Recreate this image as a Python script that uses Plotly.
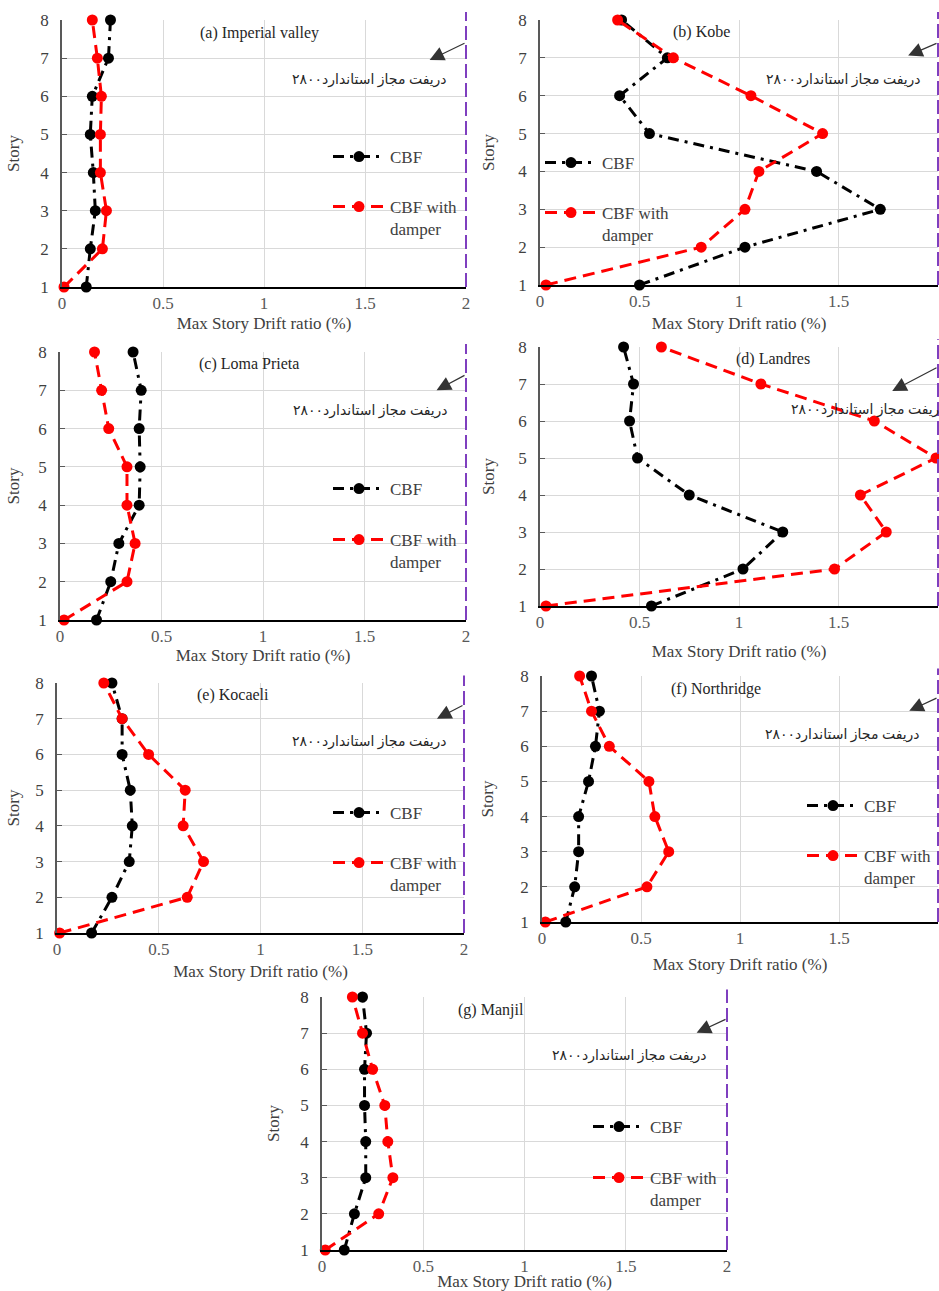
import plotly.graph_objects as go

W, H = 939, 1291

# ---------------- data ----------------
STORY = [1, 2, 3, 4, 5, 6, 7, 8]
XTICKS = [0, 0.5, 1, 1.5, 2]
XTICKTEXT = ["0", "0.5", "1", "1.5", "2"]
X_RANGE = [0, 2]
Y_RANGE = [1, 8]
LIMIT = 2.0
LIMIT_LABEL = "دریفت مجاز استاندارد۲۸۰۰"
SERIES_NAMES = ["CBF", "CBF with<br>damper"]
X_TITLE = "Max Story Drift ratio (%)"
Y_TITLE = "Story"

TITLES = ["(a) Imperial valley", "(b) Kobe", "(c) Loma Prieta", "(d) Landres",
          "(e) Kocaeli", "(f) Northridge", "(g) Manjil"]

# values for stories 1..8
imperial_cbf = [0.12, 0.14, 0.165, 0.155, 0.14, 0.15, 0.23, 0.24]
imperial_damper = [0.01, 0.20, 0.22, 0.19, 0.19, 0.195, 0.175, 0.15]
kobe_cbf = [0.50, 1.03, 1.71, 1.39, 0.55, 0.40, 0.64, 0.41]
kobe_damper = [0.03, 0.81, 1.03, 1.10, 1.42, 1.06, 0.67, 0.39]
loma_cbf = [0.18, 0.25, 0.29, 0.39, 0.395, 0.39, 0.40, 0.36]
loma_damper = [0.02, 0.33, 0.37, 0.33, 0.33, 0.24, 0.205, 0.17]
landers_cbf = [0.56, 1.02, 1.22, 0.75, 0.49, 0.45, 0.47, 0.42]
landers_damper = [0.03, 1.48, 1.74, 1.61, 1.99, 1.68, 1.11, 0.61]
kocaeli_cbf = [0.17, 0.27, 0.355, 0.37, 0.36, 0.32, 0.32, 0.27]
kocaeli_damper = [0.013, 0.64, 0.72, 0.62, 0.63, 0.45, 0.32, 0.23]
northridge_cbf = [0.12, 0.165, 0.185, 0.185, 0.235, 0.27, 0.29, 0.25]
northridge_damper = [0.017, 0.53, 0.64, 0.57, 0.54, 0.34, 0.25, 0.19]
manjil_cbf = [0.11, 0.16, 0.216, 0.216, 0.21, 0.21, 0.22, 0.20]
manjil_damper = [0.016, 0.28, 0.35, 0.325, 0.31, 0.25, 0.20, 0.15]

CBF_SERIES = [imperial_cbf, kobe_cbf, loma_cbf, landers_cbf, kocaeli_cbf, northridge_cbf, manjil_cbf]
DAMPER_SERIES = [imperial_damper, kobe_damper, loma_damper, landers_damper,
                 kocaeli_damper, northridge_damper, manjil_damper]

# ---------------- layout (pixels) ----------------
# plot box: (left, right, top, bottom)
BOXES = [(62, 466, 20, 287), (540, 938, 20, 285), (60, 466, 352, 620), (540, 938, 347, 606),
         (57, 464, 683, 933), (542, 938, 676, 922), (322, 727, 997, 1250)]
# title annotation (x, y in data)
TITLE_POS = [(0.98, 7.67), (0.81, 7.67), (0.93, 7.69), (1.17, 7.68), (0.865, 7.67), (0.88, 7.64), (0.834, 7.65)]
# arrow head (x,y), tail (x,y)
ARROWS = [((1.82, 6.95), (2.0, 7.41)), ((1.85, 7.06), (2.0, 7.40)), ((1.855, 7.0), (2.0, 7.41)),
          ((1.77, 6.81), (2.0, 7.46)), ((1.867, 7.0), (2.0, 7.39)), ((1.855, 7.01), (2.0, 7.39)),
          ((1.85, 7.01), (2.0, 7.40))]
# label (x, y, xanchor)
LABELS = [(1.52, 6.43, "center"), (1.525, 6.42, "center"), (1.53, 6.45, "center"),
          (1.25, 6.3, "left"), (1.536, 6.36, "center"), (1.52, 6.32, "center"), (1.52, 6.36, "center")]
# legend: line start px, CBF center y px, damper first line y px (None = no legend)
LEGENDS = [(333, 157, 207), (545, 163, 213), (333, 489, 540), None,
           (333, 813, 863), (807, 806, 856), (593, 1127, 1178)]
X_STANDOFF = [35, 37, 32, 44, 37, 41, 33]
Y_STANDOFF = [44, 47, 42, 47, 39, 50, 44]

SERIF = "Liberation Serif, Times New Roman, serif"
fig = go.Figure()
layout = dict(
    width=W, height=H, margin=dict(l=0, r=0, t=0, b=0),
    paper_bgcolor="white", plot_bgcolor="white",
    font=dict(family=SERIF, size=17, color="#404040"),
    annotations=[], shapes=[],
)

leg_idx = 0
for i in range(7):
    n = "" if i == 0 else str(i + 1)
    xa, ya = "x" + n, "y" + n
    l, r, t, b = BOXES[i]
    leg = LEGENDS[i]
    for k, (vals, color, dash) in enumerate([
        (CBF_SERIES[i], "black", "11px,6px,3px,6px"),
        (DAMPER_SERIES[i], "#ff0000", "12px,7px"),
    ]):
        tr = dict(
            x=vals, y=STORY, xaxis=xa, yaxis=ya, mode="lines+markers",
            name=SERIES_NAMES[k],
            line=dict(color=color, width=3, dash=dash),
            marker=dict(color=color, size=11, symbol="circle"),
            cliponaxis=False,
            showlegend=leg is not None,
        )
        if leg is not None:
            leg_idx += 1
            lname = "legend" if leg_idx == 1 else "legend" + str(leg_idx)
            tr["legend"] = lname
            ly = leg[1] if k == 0 else leg[2]
            layout[lname] = dict(
                x=(leg[0] - 5) / W, xanchor="left",
                y=1 - (ly - 18) / H, yanchor="top",
                bgcolor="rgba(0,0,0,0)", borderwidth=0,
                itemwidth=52, valign="top",
                font=dict(family=SERIF, size=17, color="#404040"),
            )
        fig.add_trace(go.Scatter(**tr))

    layout["xaxis" + n] = dict(
        domain=[l / W, r / W], anchor=ya, range=X_RANGE,
        tickvals=XTICKS, ticktext=XTICKTEXT,
        showgrid=True, gridcolor="#d9d9d9", gridwidth=1,
        showline=True, linecolor="black", linewidth=1.5, zeroline=False,
        ticks="", tickfont=dict(family=SERIF, size=17, color="#595959"),
        title=dict(text=X_TITLE, font=dict(family=SERIF, size=17, color="#404040"),
                   standoff=X_STANDOFF[i] - 30),
        automargin=False,
    )
    layout["yaxis" + n] = dict(
        domain=[1 - b / H, 1 - t / H], anchor=xa, range=Y_RANGE,
        tickvals=STORY, showgrid=True, gridcolor="#d9d9d9", gridwidth=1,
        showline=True, linecolor="#595959", linewidth=1.5, zeroline=False,
        ticks="inside", ticklen=5, tickcolor="#595959",
        ticklabelstandoff=8,
        tickfont=dict(family=SERIF, size=17, color="#404040"),
        title=dict(text=Y_TITLE, font=dict(family=SERIF, size=17, color="#404040"),
                   standoff=Y_STANDOFF[i] - 28),
        automargin=False,
    )
    # allowable drift limit line
    xd = (LIMIT - X_RANGE[0]) / (X_RANGE[1] - X_RANGE[0])
    layout["shapes"].append(dict(
        type="line", xref=xa + " domain", yref=ya + " domain",
        x0=xd, x1=xd, y0=0, y1=1.03,
        line=dict(color="#7F3FBF", width=2, dash="14px,5px"),
    ))
    # panel title
    layout["annotations"].append(dict(
        x=TITLE_POS[i][0], y=TITLE_POS[i][1], xref=xa, yref=ya, text=TITLES[i],
        showarrow=False, font=dict(family=SERIF, size=16, color="#262626"),
        xanchor="center", yanchor="middle",
    ))
    # arrow
    (hx, hy), (tx, ty) = ARROWS[i]
    layout["annotations"].append(dict(
        x=hx, y=hy, xref=xa, yref=ya, ax=tx, ay=ty, axref=xa, ayref=ya,
        text="", showarrow=True, arrowhead=2, arrowsize=2.4, arrowwidth=1.2,
        arrowcolor="#333333",
    ))
    # label
    lx, lyv, anc = LABELS[i]
    layout["annotations"].append(dict(
        x=lx, y=lyv, xref=xa, yref=ya, text=LIMIT_LABEL, showarrow=False,
        xanchor=anc, yanchor="middle",
        font=dict(family="Liberation Serif, DejaVu Sans, sans-serif", size=14, color="#262626"),
    ))

fig.update_layout(**layout)
fig.write_html("out.html")
